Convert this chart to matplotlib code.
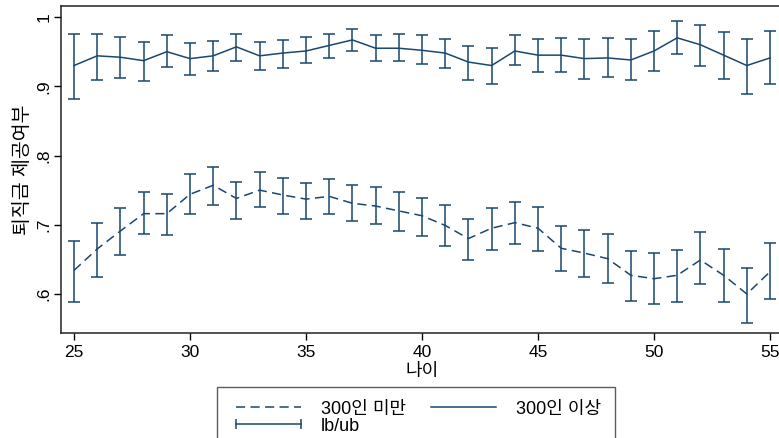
import numpy as np
import matplotlib
matplotlib.use("Agg")
import matplotlib.pyplot as plt
from matplotlib.ticker import FuncFormatter
from matplotlib.lines import Line2D

plt.rcParams['font.family'] = ['Liberation Sans', 'Noto Sans CJK KR']

# age
age = np.arange(25, 56)

# 300인 미만 (dashed)
small_mean = [0.634, 0.665, 0.691, 0.716, 0.716, 0.744, 0.757, 0.738, 0.750, 0.743,
              0.737, 0.741, 0.731, 0.727, 0.720, 0.713, 0.699, 0.680, 0.695, 0.703,
              0.695, 0.666, 0.659, 0.651, 0.627, 0.622, 0.627, 0.649, 0.627, 0.600, 0.632]
small_lb = [0.589, 0.625, 0.657, 0.686, 0.685, 0.716, 0.729, 0.708, 0.726, 0.715,
            0.709, 0.715, 0.705, 0.701, 0.691, 0.684, 0.670, 0.649, 0.664, 0.672,
            0.662, 0.633, 0.625, 0.616, 0.590, 0.585, 0.588, 0.614, 0.588, 0.558, 0.593]
small_ub = [0.677, 0.702, 0.724, 0.748, 0.745, 0.773, 0.784, 0.762, 0.776, 0.768,
            0.761, 0.766, 0.758, 0.755, 0.748, 0.739, 0.728, 0.708, 0.724, 0.733,
            0.726, 0.698, 0.692, 0.686, 0.662, 0.659, 0.663, 0.690, 0.665, 0.638, 0.673]

# 300인 이상 (solid)
large_mean = [0.930, 0.944, 0.942, 0.937, 0.950, 0.940, 0.944, 0.957, 0.944, 0.948,
              0.951, 0.959, 0.967, 0.955, 0.955, 0.952, 0.948, 0.935, 0.930, 0.951,
              0.945, 0.945, 0.940, 0.941, 0.938, 0.951, 0.970, 0.960, 0.945, 0.930, 0.941]
large_lb = [0.882, 0.909, 0.912, 0.908, 0.928, 0.916, 0.922, 0.937, 0.923, 0.927,
            0.933, 0.941, 0.951, 0.936, 0.936, 0.932, 0.927, 0.909, 0.904, 0.931,
            0.921, 0.920, 0.911, 0.913, 0.909, 0.922, 0.947, 0.930, 0.910, 0.889, 0.904]
large_ub = [0.975, 0.976, 0.971, 0.964, 0.974, 0.963, 0.965, 0.976, 0.964, 0.967,
            0.971, 0.976, 0.983, 0.974, 0.975, 0.974, 0.969, 0.958, 0.956, 0.974,
            0.969, 0.970, 0.968, 0.970, 0.968, 0.980, 0.995, 0.988, 0.978, 0.969, 0.980]

navy = '#1a476f'

fig = plt.figure(figsize=(7.79, 4.38), dpi=100)
ax = fig.add_axes([61/779, 1 - 333/438, 722/779, 327/438])

small_mean = np.array(small_mean)
large_mean = np.array(large_mean)

l1, = ax.plot(age, small_mean, color=navy, lw=1.1, ls=(0, (6, 3.5)))
l2, = ax.plot(age, large_mean, color=navy, lw=1.1)
ax.errorbar(age, small_mean,
            yerr=[small_mean - np.array(small_lb), np.array(small_ub) - small_mean],
            fmt='none', ecolor=navy, elinewidth=1.1, capsize=4, capthick=1.1)
ax.errorbar(age, large_mean,
            yerr=[large_mean - np.array(large_lb), np.array(large_ub) - large_mean],
            fmt='none', ecolor=navy, elinewidth=1.1, capsize=4, capthick=1.1)

ax.set_xlim(24.44, 55.56)
ax.set_ylim(0.5436, 1.016)
ax.set_xticks([25, 30, 35, 40, 45, 50, 55])
ax.set_yticks([0.6, 0.7, 0.8, 0.9, 1.0])
ax.yaxis.set_major_formatter(FuncFormatter(lambda v, p: ('%g' % round(v, 1)).lstrip('0')))
ax.tick_params(axis='both', direction='out', length=5, width=1, labelsize=12.5, colors='black')
ax.tick_params(axis='y', labelrotation=90, pad=2)
for lab in ax.get_yticklabels():
    lab.set_va('center')
for s in ax.spines.values():
    s.set_linewidth(1.1)
    s.set_color('#222222')

ax.set_xlabel('나이', fontsize=13, labelpad=2)
ax.set_ylabel('퇴직금 제공여부', fontsize=14, labelpad=3)

# legend: row 1 dashed / solid, row 2 lb/ub (column-major order)
eb_handle = Line2D([0], [0], color=navy, lw=1.1, marker='|', markersize=7, markeredgewidth=1.1)
leg = fig.legend([l1, eb_handle, l2], ['300인 미만', 'lb/ub', '300인 이상'],
                 loc='upper left', bbox_to_anchor=(217/779, 1 - 387/438),
                 ncol=2, fontsize=13, frameon=True, fancybox=False, numpoints=2,
                 edgecolor='#333333', handlelength=4.2, handletextpad=0.8,
                 columnspacing=1.1, borderpad=0.75, labelspacing=0.0, borderaxespad=0)
leg.get_frame().set_linewidth(1.0)

fig.savefig('out.png', dpi=100)
